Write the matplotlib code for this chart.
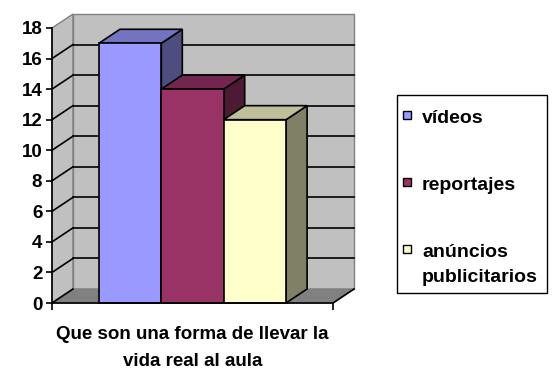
import matplotlib.pyplot as plt
from matplotlib.patches import Polygon, Rectangle

plt.rcParams['font.family'] = ['Liberation Sans', 'DejaVu Sans']
plt.rcParams['font.weight'] = 'bold'

# data
series = ['vídeos', 'reportajes', 'anúncios\npublicitarios']
values = [17, 14, 12]
category = 'Que son una forma de llevar la\nvida real al aula'
yticks = [0, 2, 4, 6, 8, 10, 12, 14, 16, 18]

# face colours: front, top (shaded), side (darker)
front_c = ['#9999FF', '#993366', '#FFFFCC']
top_c = ['#7373BF', '#73264D', '#BFBF99']
side_c = ['#4D4D80', '#4D1A33', '#808066']

W, H = 560, 374
fig = plt.figure(figsize=(W / 100, H / 100), dpi=100)
ax = fig.add_axes([52 / W, (H - 303) / H, 281 / W, 275 / H])
ax.set_xlim(0, 1)
ax.set_ylim(0, 18)

dx = 21 / 281          # depth shift along x (axes units)
dy = 14 / 275 * 18     # depth shift along y (value units)
ymax = yticks[-1]

# walls and floor
ax.add_patch(Polygon([(0, 0), (dx, dy), (dx, ymax + dy), (0, ymax)],
                     fc='#C0C0C0', ec='#808080', lw=1, clip_on=False, zorder=1))
ax.add_patch(Rectangle((dx, dy), 1, ymax, fc='#C0C0C0', ec='#808080',
                       lw=1, clip_on=False, zorder=1))
ax.add_patch(Polygon([(0, 0), (1, 0), (1 + dx, dy), (dx, dy)],
                     fc='#808080', ec='#808080', lw=1, clip_on=False, zorder=1))
ax.plot([1, 1 + dx], [0, dy], color='black', lw=1.2, clip_on=False, zorder=2)

for v in yticks[:-1]:
    ax.plot([0, dx], [v, v + dy], color='black', lw=1.2, clip_on=False, zorder=2)
    if v > 0:
        ax.plot([dx, 1 + dx], [v + dy, v + dy], color='black', lw=1.2,
                clip_on=False, zorder=2)

# bars
bw = 0.222
x_start = 0.5 - bw * len(values) / 2
for i, v in enumerate(values):
    x0 = x_start + i * bw
    x1 = x0 + bw
    z = 3 + i
    ax.add_patch(Polygon([(x1, 0), (x1 + dx, dy), (x1 + dx, v + dy), (x1, v)],
                         fc=side_c[i], ec='black', lw=1.2, clip_on=False, zorder=z))
    ax.add_patch(Polygon([(x0, v), (x1, v), (x1 + dx, v + dy), (x0 + dx, v + dy)],
                         fc=top_c[i], ec='black', lw=1.2, clip_on=False, zorder=z))
    ax.add_patch(Rectangle((x0, 0), bw, v, fc=front_c[i], ec='black',
                           lw=1.2, clip_on=False, zorder=z))

# axes
for s in ['top', 'right']:
    ax.spines[s].set_visible(False)
for s in ['left', 'bottom']:
    ax.spines[s].set_linewidth(1.2)
    ax.spines[s].set_zorder(10)
ax.set_yticks(yticks)
ax.set_xticks([0, 1])
ax.set_xticklabels([])
ax.tick_params(axis='y', direction='out', length=4, width=1.2, labelsize=13.5, pad=3)
ax.tick_params(axis='x', direction='out', length=5, width=1.2)
for t in ax.get_yticklabels():
    t.set_fontweight('bold')
ax.set_xlabel(category, fontsize=13.5, fontweight='bold', linespacing=1.75, labelpad=8)

# legend
fig.add_artist(Rectangle((397 / W, (H - 293) / H), 150 / W, 198 / H,
                         transform=fig.transFigure, fill=False, ec='black', lw=1))
rows = [123, 190, 257]   # text baselines (px from top)
for lab, col, ry in zip(series, front_c, rows):
    fig.add_artist(Rectangle((403 / W, (H - ry + 4) / H), 8 / W, 8 / H,
                             transform=fig.transFigure, fc=col, ec='black', lw=1))
    for k, line in enumerate(lab.split('\n')):
        fig.text(422 / W, (H - ry - 25 * k) / H, line, fontsize=14,
                 fontweight='bold', va='baseline', ha='left')

fig.savefig('out.png', dpi=100)
